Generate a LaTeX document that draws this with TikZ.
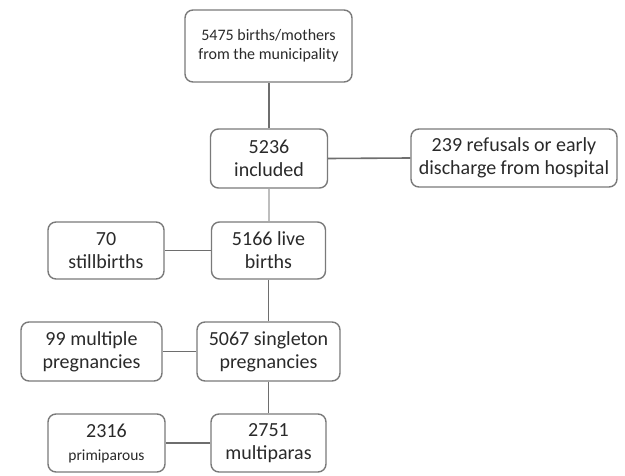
\documentclass[tikz,border=0pt]{standalone}
\usepackage{fontspec}
\setmainfont{Carlito}
\definecolor{boxline}{HTML}{7A7A7A}
\definecolor{conn}{HTML}{6E6E6E}
\definecolor{txt}{HTML}{2A2A2A}
\begin{document}
\begin{tikzpicture}[x=1pt,y=-1pt,
  box/.style={draw=boxline, line width=1.4pt, rounded corners=8pt, fill=white,
    align=center, text=txt, inner sep=2pt,
    font=\fontsize{20}{23}\selectfont},
  smallbox/.style={box, font=\fontsize{16}{19}\selectfont},
  link/.style={draw=conn, line width=1.6pt}]
\useasboundingbox (0,0) rectangle (625,476);
\fill[white] (0,0) rectangle (625,476);
\node[smallbox, minimum width=167pt, minimum height=72pt] (b1) at (268.5,46) {5475 births/mothers\\from the municipality};
\node[box, minimum width=117pt, minimum height=59pt] (b2) at (269,158.5) {5236\\included};
\node[box, minimum width=206pt, minimum height=58pt] (b3) at (514,158) {239 refusals or early\\discharge from hospital};
\node[box, minimum width=114pt, minimum height=57pt] (b4) at (268.5,250.5) {5166 live\\births};
\node[box, minimum width=116pt, minimum height=57pt] (b5) at (106,250.5) {70\\stillbirths};
\node[box, minimum width=143pt, minimum height=59pt] (b6) at (268.5,351.5) {5067 singleton\\pregnancies};
\node[box, minimum width=141pt, minimum height=59pt] (b7) at (91.5,351.5) {99 multiple\\pregnancies};
\node[box, minimum width=115pt, minimum height=58pt] (b8) at (268.5,443) {2751\\multiparas};
\node[box, minimum width=117pt, minimum height=58pt] (b9) at (106.5,443) {2316\\{\fontsize{15.5}{18}\selectfont primiparous}};
\draw[link] (b2.north) -- (b2.north |- b1.south);
\draw[link] (b2.east) -- (b3.west);
\draw[link, draw=conn!45] (b2.south) -- (b2.south |- b4.north);
\draw[link] (b4.west) -- (b5.east);
\draw[link] (b4.south) -- (b4.south |- b6.north);
\draw[link] (b6.west) -- (b7.east);
\draw[link] (b6.south) -- (b6.south |- b8.north);
\draw[link] (b8.west) -- (b9.east);
\end{tikzpicture}
\end{document}
